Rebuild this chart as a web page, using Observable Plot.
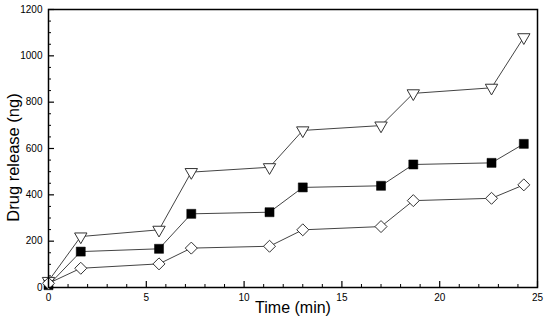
<!DOCTYPE html>
<html>
<head>
<meta charset="utf-8">
<script src="https://cdn.jsdelivr.net/npm/d3@7"></script>
<script src="https://cdn.jsdelivr.net/npm/@observablehq/plot@0.6"></script>
<style>
  html, body { margin: 0; padding: 0; background: #fff; }
  #chart svg { font-family: "Liberation Sans", Arial, Helvetica, sans-serif; }
</style>
</head>
<body>
<div id="chart"></div>
<script>
const time = [0, 1.65, 5.65, 7.3, 11.3, 13, 17, 18.65, 22.65, 24.3];
const triangleSeries = [28, 220, 249, 498, 519, 678, 699, 838, 862, 1080];
const squareSeries = [10, 155, 167, 318, 325, 432, 439, 531, 538, 620];
const diamondSeries = [18, 83, 102, 170, 178, 249, 263, 375, 385, 443];

const xMajor = [0, 5, 10, 15, 20, 25];
const xMinor = d3.range(0, 26, 1).filter(v => v % 5 !== 0);
const yMajor = [0, 200, 400, 600, 800, 1000, 1200];
const yMinor = d3.range(0, 1201, 50).filter(v => v % 200 !== 0);

const W = 550, H = 325;
const mL = 48, mR = 13, mT = 9, mB = 38;
const innerW = W - mL - mR, innerH = H - mT - mB;

const tri = time.map((t, i) => ({t, v: triangleSeries[i]}));
const sq = time.map((t, i) => ({t, v: squareSeries[i]}));
const dia = time.map((t, i) => ({t, v: diamondSeries[i]}));

const lineStyle = {x: "t", y: "v", stroke: "#444", strokeWidth: 1};

const chart = Plot.plot({
  width: W, height: H,
  marginLeft: mL, marginRight: mR, marginTop: mT, marginBottom: mB,
  x: {domain: [0, 25]},
  y: {domain: [0, 1200]},
  marks: [
    Plot.ruleX(xMajor, {insetTop: innerH - 6, stroke: "black", strokeWidth: 1.2}),
    Plot.ruleX(xMinor, {insetTop: innerH - 3, stroke: "black", strokeWidth: 1}),
    Plot.ruleY(yMajor, {insetRight: innerW - 6, stroke: "black", strokeWidth: 1.2}),
    Plot.ruleY(yMinor, {insetRight: innerW - 3, stroke: "black", strokeWidth: 1}),
    Plot.axisX({ticks: xMajor, tickSize: 0, tickPadding: 6, fontSize: 10, label: null, tickFormat: d => String(d)}),
    Plot.axisY({ticks: yMajor, tickSize: 0, tickPadding: 6, fontSize: 10, label: null, tickFormat: d => String(d)}),
    Plot.line(tri, lineStyle),
    Plot.line(sq, lineStyle),
    Plot.line(dia, lineStyle),
    Plot.dot(tri, {x: "t", y: "v", symbol: "triangle", rotate: 180, r: 4.6, fill: "white", stroke: "#333", strokeWidth: 1}),
    Plot.dot(sq, {x: "t", y: "v", symbol: "square", r: 5.1, fill: "black", stroke: "black", strokeWidth: 0.5}),
    Plot.dot(dia, {x: "t", y: "v", symbol: "diamond2", r: 5.4, fill: "white", stroke: "#333", strokeWidth: 1}),
    Plot.frame({stroke: "black", strokeWidth: 1.5}),
    Plot.text(["Time (min)"], {frameAnchor: "bottom", dy: 25, fontSize: 16, fill: "black"}),
    Plot.text(["Drug release (ng)"], {frameAnchor: "left", dx: -35, dy: 9, rotate: -90, textAnchor: "middle", fontSize: 16.5, fill: "black"})
  ]
});
document.getElementById("chart").appendChild(chart);
</script>
</body>
</html>
